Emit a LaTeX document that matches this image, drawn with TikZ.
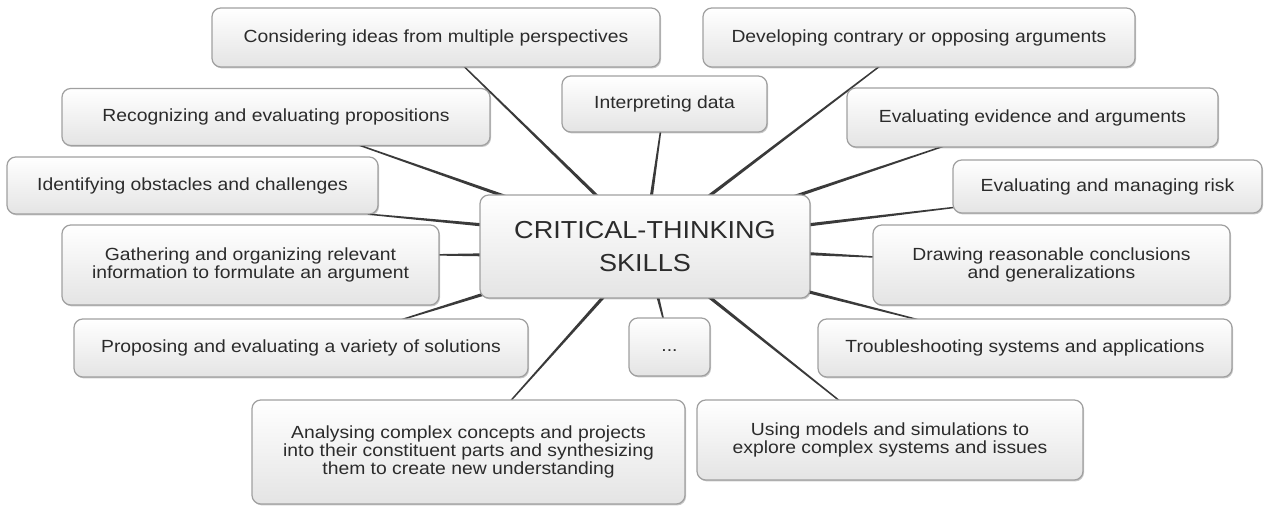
\documentclass[tikz,border=0pt]{standalone}
\usepackage{fontspec}
\setmainfont{Liberation Sans}[FakeStretch=1.1]
\usetikzlibrary{calc,shadows,backgrounds}
\definecolor{boxborder}{HTML}{A0A0A0}
\definecolor{boxmid}{HTML}{F8F8F8}
\definecolor{boxbottom}{HTML}{E4E4E4}
\definecolor{textcol}{HTML}{2B2B2B}
\definecolor{linecol}{HTML}{3A3A3A}
\newcommand\conn[2]{%
  \path ($(#1)!-3pt!(#2)$) coordinate (tmpS) ($(#2)!-8pt!(#1)$) coordinate (tmpE);
  \fill[linecol] ($(tmpS)!0.4pt!90:(tmpE)$) -- ($(tmpE)!0.95pt!-90:(tmpS)$)
     -- ($(tmpE)!0.95pt!90:(tmpS)$) -- ($(tmpS)!0.4pt!-90:(tmpE)$) -- cycle;}
\tikzset{
  sz/.style 2 args={minimum width={#1*0.02cm}, minimum height={#2*0.02cm}},
  box/.style={rectangle, rounded corners=5pt, draw=boxborder, line width=0.7pt,
    top color=white, middle color=boxmid, bottom color=boxbottom, inner sep=0pt, align=center,
    text=textcol, font=\fontsize{10}{10.4}\selectfont,
    drop shadow={shadow xshift=0.6pt, shadow yshift=-0.8pt, opacity=0.22, fill=black}},
  bigbox/.style={box, font=\fontsize{14}{19}\selectfont}
}
\begin{document}
\begin{tikzpicture}[x=0.02cm, y=-0.02cm]
\useasboundingbox (0,0) rectangle (1268,506);
\node[box, sz={448}{59}] (n1) at (436,37.5) {Considering ideas from multiple perspectives};
\node[box, sz={432}{59}] (n2) at (919,37.5) {Developing contrary or opposing arguments};
\node[box, sz={205}{56}] (n3) at (664.5,104) {Interpreting data};
\node[box, sz={428}{57}] (n4) at (276,117) {Recognizing and evaluating propositions};
\node[box, sz={371}{59}] (n5) at (1032.5,117.5) {Evaluating evidence and arguments};
\node[box, sz={371}{57}] (n6) at (192.5,185.5) {Identifying obstacles and challenges};
\node[box, sz={309}{53}] (n7) at (1107.5,186.5) {Evaluating and managing risk};
\node[bigbox, sz={330}{103}] (c) at (645,246.5) {CRITICAL-THINKING\\SKILLS};
\node[box, sz={377}{80}] (n9) at (250.5,265) {Gathering and organizing relevant\\information to formulate an argument};
\node[box, sz={357}{80}] (n10) at (1051.5,265) {Drawing reasonable conclusions\\and generalizations};
\node[box, sz={454}{58}] (n11) at (301,348) {Proposing and evaluating a variety of solutions};
\node[box, sz={81}{58}] (n12) at (669.5,347) {\raisebox{-5pt}{...}};
\node[box, sz={414}{58}] (n13) at (1025,348) {Troubleshooting systems and applications};
\node[box, sz={433}{104}] (n14) at (468.5,452) {Analysing complex concepts and projects\\into their constituent parts and synthesizing\\them to create new understanding};
\node[box, sz={386}{80}] (n15) at (890,440) {Using models and simulations to\\explore complex systems and issues};

\begin{scope}[on background layer]
\fill[white] (0,0) rectangle (1268,506);
% attachment points on the centre node
\coordinate (e1) at ($(c.north west)!0.35!(c.north east)$);
\coordinate (e2) at ($(c.north west)!0.70!(c.north east)$);
\coordinate (e3) at ($(c.north west)!0.52!(c.north east)$);
\coordinate (e4) at ($(c.north west)!0.06!(c.north east)$);
\coordinate (e5) at ($(c.north west)!0.97!(c.north east)$);
\coordinate (e6) at ($(c.north west)!0.29!(c.south west)$);
\coordinate (e7) at ($(c.north east)!0.29!(c.south east)$);
\coordinate (e9) at ($(c.north west)!0.58!(c.south west)$);
\coordinate (e10) at ($(c.north east)!0.57!(c.south east)$);
\coordinate (e11) at ($(c.north west)!0.97!(c.south west)$);
\coordinate (e12) at ($(c.south west)!0.54!(c.south east)$);
\coordinate (e13) at ($(c.north east)!0.94!(c.south east)$);
\coordinate (e14) at ($(c.south west)!0.37!(c.south east)$);
\coordinate (e15) at ($(c.south west)!0.70!(c.south east)$);
% attachment points on the outer nodes
\coordinate (s1) at ($(n1.south west)!0.565!(n1.south east)$);
\coordinate (s2) at ($(n2.south west)!0.405!(n2.south east)$);
\coordinate (s3) at ($(n3.south west)!0.48!(n3.south east)$);
\coordinate (s4) at ($(n4.south west)!0.70!(n4.south east)$);
\coordinate (s5) at ($(n5.south west)!0.25!(n5.south east)$);
\coordinate (s6) at ($(n6.south west)!0.985!(n6.south east)$);
\coordinate (s7) at ($(n7.north west)!0.89!(n7.south west)$);
\coordinate (s9) at ($(n9.north east)!0.375!(n9.south east)$);
\coordinate (s10) at ($(n10.north west)!0.40!(n10.south west)$);
\coordinate (s11) at ($(n11.north west)!0.73!(n11.north east)$);
\coordinate (s12) at ($(n12.north west)!0.42!(n12.north east)$);
\coordinate (s13) at ($(n13.north west)!0.23!(n13.north east)$);
\coordinate (s14) at ($(n14.north west)!0.60!(n14.north east)$);
\coordinate (s15) at ($(n15.north west)!0.365!(n15.north east)$);
\foreach \i in {1,2,3,4,5,6,7,9,10,11,12,13,14,15}{\conn{s\i}{e\i}}
\end{scope}
\end{tikzpicture}
\end{document}
